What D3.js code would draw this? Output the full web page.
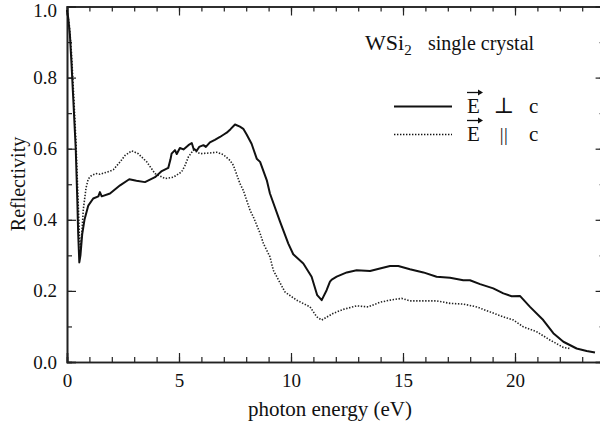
<!DOCTYPE html>
<html>
<head>
<meta charset="utf-8">
<script src="https://cdn.jsdelivr.net/npm/d3@7"></script>
<style>
  body { margin: 0; background: #fff; }
  svg { display: block; font-family: "Liberation Serif", "DejaVu Serif", serif; }
  .axis path, .axis line { stroke: #222; }
  .axis path { stroke-width: 1.6; }
  .axis line { stroke-width: 1.2; }
</style>
</head>
<body>
<div id="chart"></div>
<script>
// E perpendicular c (solid)
const energyPerp = [0, 0.05, 0.13, 0.2, 0.28, 0.39, 0.46, 0.5, 0.55, 0.6, 0.68, 0.78, 0.95, 1.17, 1.4, 1.47, 1.55,
  1.92, 2.37, 2.78, 3.1, 3.48, 3.93, 4.23, 4.52, 4.62, 4.67, 4.82, 4.9, 5.04, 5.2, 5.42, 5.57, 5.65, 5.79, 5.9,
  6.09, 6.2, 6.38, 6.6, 6.83, 7.0, 7.13, 7.3, 7.5, 7.72, 7.87, 8.02, 8.24, 8.47, 8.62, 8.92, 9.06, 9.51, 9.88,
  10.1, 10.55, 10.92, 11.17, 11.37, 11.59, 11.74, 11.82, 12.04, 12.49, 12.93, 13.53, 13.97, 14.42, 14.79, 15.31,
  15.91, 16.5, 17.1, 17.69, 17.99, 18.44, 19.03, 19.48, 19.85, 20.22, 20.67, 21.26, 21.71, 22.16, 22.75, 23.2, 23.57];
const reflPerp = [0.99, 0.97, 0.92, 0.84, 0.74, 0.6, 0.455, 0.36, 0.28, 0.3, 0.36, 0.4, 0.44, 0.46, 0.466, 0.478, 0.466,
  0.474, 0.497, 0.514, 0.51, 0.506, 0.52, 0.537, 0.546, 0.57, 0.586, 0.596, 0.585, 0.602, 0.598, 0.61, 0.616, 0.6, 0.594, 0.605,
  0.61, 0.605, 0.618, 0.625, 0.633, 0.64, 0.645, 0.655, 0.668, 0.662, 0.656, 0.64, 0.614, 0.572, 0.563, 0.511, 0.474, 0.395, 0.333,
  0.303, 0.277, 0.24, 0.188, 0.174, 0.202, 0.226, 0.232, 0.24, 0.252, 0.258, 0.256, 0.263, 0.27, 0.27, 0.261,
  0.252, 0.24, 0.237, 0.23, 0.23, 0.219, 0.207, 0.193, 0.185, 0.186, 0.155, 0.118, 0.081, 0.057, 0.038, 0.031, 0.027];

// E parallel c (dotted)
const energyPar = [0, 0.1, 0.2, 0.3, 0.4, 0.48, 0.55, 0.6, 0.66, 0.73, 0.85, 0.95, 1.1, 1.32, 1.47, 1.92, 2.07, 2.37,
  2.59, 2.89, 3.18, 3.56, 3.93, 4.38, 4.75, 5.12, 5.27, 5.42, 5.64, 5.94, 6.38, 6.68, 6.98, 7.28, 7.43, 7.72, 7.87,
  8.17, 8.32, 8.62, 8.77, 9.06, 9.21, 9.73, 10.25, 10.85, 11.15, 11.37, 11.89, 12.34, 12.93, 13.45, 13.97, 14.42,
  14.94, 15.31, 15.91, 16.5, 17.1, 17.69, 18.29, 18.88, 19.48, 19.93, 20.37, 20.97, 21.56, 22.16, 22.45];
const reflPar = [0.99, 0.95, 0.87, 0.75, 0.62, 0.48, 0.36, 0.32, 0.36, 0.43, 0.49, 0.515, 0.525, 0.53, 0.528, 0.537, 0.541, 0.563,
  0.581, 0.594, 0.586, 0.563, 0.53, 0.516, 0.52, 0.535, 0.553, 0.577, 0.596, 0.586, 0.588, 0.59, 0.583, 0.567, 0.553, 0.502, 0.483,
  0.427, 0.408, 0.362, 0.333, 0.296, 0.258, 0.197, 0.174, 0.155, 0.127, 0.118, 0.137, 0.148, 0.158, 0.155, 0.168, 0.174,
  0.179, 0.172, 0.172, 0.172, 0.165, 0.163, 0.155, 0.141, 0.127, 0.118, 0.099, 0.085, 0.062, 0.041, 0.038];

const xMajor = [0, 5, 10, 15, 20];
const xMinor = d3.range(0, 25, 1);
const yMajor = [0, 0.2, 0.4, 0.6, 0.8, 1.0];
const yMinor = d3.range(0, 1.01, 0.1);

const margin = { top: 6.5, right: 0, bottom: 65, left: 67 };
const W = 600, H = 427;
const plotW = 537.6, plotH = H - margin.top - margin.bottom;

const svg = d3.select("#chart").append("svg").attr("width", W).attr("height", H);
const plot = svg.append("g").attr("transform", `translate(${margin.left},${margin.top})`);

const x = d3.scaleLinear().domain([0, 24]).range([0, plotW]);
const y = d3.scaleLinear().domain([0, 1]).range([plotH, 0]);

// minor ticks
plot.append("g").attr("class", "axis").attr("transform", `translate(0,${plotH})`)
  .call(d3.axisBottom(x).tickValues(xMinor).tickSize(-5).tickFormat(""));
plot.append("g").attr("class", "axis")
  .call(d3.axisTop(x).tickValues(xMinor).tickSize(-5).tickFormat(""));
plot.append("g").attr("class", "axis")
  .call(d3.axisLeft(y).tickValues(yMinor).tickSize(-5).tickFormat(""));
plot.append("g").attr("class", "axis").attr("transform", `translate(${plotW},0)`)
  .call(d3.axisRight(y).tickValues(yMinor).tickSize(-5).tickFormat(""));

// major ticks
const xAx = plot.append("g").attr("class", "axis").attr("transform", `translate(0,${plotH})`)
  .call(d3.axisBottom(x).tickValues(xMajor).tickSize(-9).tickPadding(12).tickFormat(d3.format("d")));
plot.append("g").attr("class", "axis")
  .call(d3.axisTop(x).tickValues(xMajor).tickSize(-9).tickFormat(""));
const yAx = plot.append("g").attr("class", "axis")
  .call(d3.axisLeft(y).tickValues(yMajor).tickSize(-9).tickPadding(10).tickFormat(d3.format(".1f")));
plot.append("g").attr("class", "axis").attr("transform", `translate(${plotW},0)`)
  .call(d3.axisRight(y).tickValues(yMajor).tickSize(-9).tickFormat(""));

[xAx, yAx].forEach(a => a.attr("font-family", "Liberation Serif, serif").attr("font-size", 19)
  .selectAll("text").attr("fill", "#111"));

// keep the top label inside the picture
yAx.selectAll(".tick text").filter(d => d === 1).attr("dy", "0.5em");

const line = d3.line().x(d => x(d[0])).y(d => y(d[1]));

plot.append("path")
  .datum(d3.zip(energyPar, reflPar))
  .attr("fill", "none").attr("stroke", "#222").attr("stroke-width", 1.6)
  .attr("stroke-dasharray", "1.4,1.6")
  .attr("d", line);

plot.append("path")
  .datum(d3.zip(energyPerp, reflPerp))
  .attr("fill", "none").attr("stroke", "#111").attr("stroke-width", 2)
  .attr("stroke-linejoin", "round")
  .attr("d", line);

// axis titles
svg.append("text")
  .attr("transform", "translate(25,184) rotate(-90)")
  .attr("text-anchor", "middle")
  .attr("font-size", 20).attr("fill", "#111")
  .text("Reflectivity");

svg.append("text")
  .attr("x", 330).attr("y", 416)
  .attr("text-anchor", "middle")
  .attr("font-size", 21).attr("fill", "#111")
  .text("photon energy (eV)");

// annotation
const title = svg.append("text").attr("x", 365).attr("y", 50).attr("fill", "#111");
title.append("tspan").attr("font-size", 22).text("WSi");
title.append("tspan").attr("font-size", 15).attr("dy", 5).text("2");
title.append("tspan").attr("font-size", 20).attr("dy", -5).attr("x", 428).text("single crystal");

// legend
const legend = svg.append("g");
const legRows = [
  { sym: "\u22A5", dash: null, yy: 106.5 },
  { sym: "||", dash: "1.4,1.6", yy: 134.5 }
];
legRows.forEach(r => {
  legend.append("line")
    .attr("x1", 394).attr("x2", 452).attr("y1", r.yy).attr("y2", r.yy)
    .attr("stroke", "#111").attr("stroke-width", r.dash ? 1.5 : 2)
    .attr("stroke-dasharray", r.dash);
  legend.append("text").attr("x", 467).attr("y", r.yy + 6)
    .attr("font-size", 21).attr("fill", "#111").text("E");
  // vector arrow over E
  legend.append("line")
    .attr("x1", 467).attr("x2", 481).attr("y1", r.yy - 14).attr("y2", r.yy - 14)
    .attr("stroke", "#111").attr("stroke-width", 1.3);
  legend.append("path")
    .attr("d", `M${478},${r.yy - 17} L${483},${r.yy - 14} L${478},${r.yy - 11} Z`)
    .attr("fill", "#111");
  legend.append("text").attr("x", 504).attr("y", r.yy + 6)
    .attr("text-anchor", "middle")
    .attr("font-size", r.sym === "||" ? 19 : 22).attr("fill", "#111")
    .attr("font-family", r.sym === "||" ? "Liberation Serif, serif" : "DejaVu Serif, serif")
    .attr("letter-spacing", r.sym === "||" ? 0.5 : 0)
    .text(r.sym);
  legend.append("text").attr("x", 529).attr("y", r.yy + 6)
    .attr("font-size", 21).attr("fill", "#111").text("c");
});
</script>
</body>
</html>
